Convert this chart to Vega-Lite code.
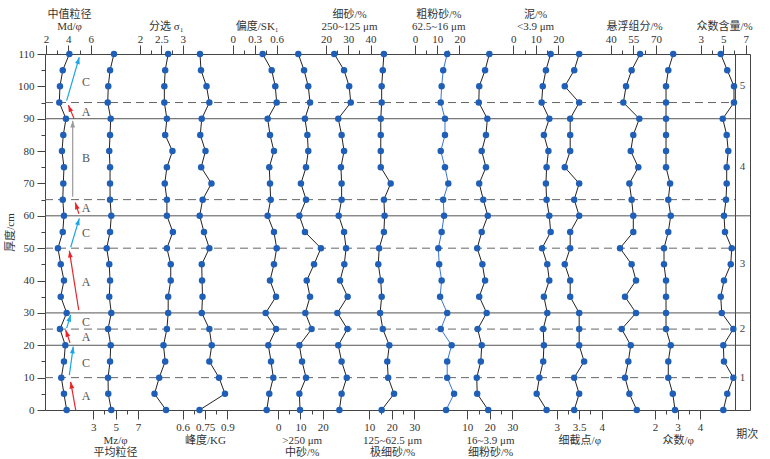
{
"$schema": "https://vega.github.io/schema/vega-lite/v6.json",
"width": 705, "height": 356,
"autosize": {"type": "none"},
"padding": {"left": 45, "top": 54, "right": 20, "bottom": 49},
"background": "white",
"config": {
 "view": {"stroke": "#444", "strokeWidth": 1},
 "axis": {"labelFont": "Liberation Serif", "labelFontSize": 11, "labelColor": "#333", "titleFont": "Liberation Serif, Noto Sans CJK SC", "titleFontSize": 11, "titleFontWeight": "normal", "titleColor": "#333", "tickColor": "#444", "tickWidth": 1, "domain": false, "grid": false, "labelOverlap": false, "labelFlush": false, "titleLineHeight": 12},
 "text": {"font": "Liberation Serif"}
},
"datasets": {
 "profile": [
  {"depth":0,"Md":3.85,"Mz":4.61,"so":2.61,"kg":0.713,"sk":0.464,"ms":9.8,"fs":26.0,"vfs":15.5,"cs":14.0,"fis":19.3,"mud":14.8,"cut":3.39,"susp":57.3,"mode":2.89,"modec":5.01},
  {"depth":5,"Md":3.61,"Mz":4.34,"so":2.34,"kg":0.884,"sk":0.499,"ms":9.5,"fs":27.0,"vfs":21.0,"cs":17.6,"fis":14.4,"mud":10.4,"cut":3.50,"susp":52.4,"mode":2.79,"modec":5.36},
  {"depth":10,"Md":3.37,"Mz":4.32,"so":2.45,"kg":0.844,"sk":0.554,"ms":12.5,"fs":29.3,"vfs":18.4,"cs":14.5,"fis":14.2,"mud":11.6,"cut":3.39,"susp":49.5,"mode":2.59,"modec":5.90},
  {"depth":15,"Md":3.61,"Mz":4.50,"so":2.59,"kg":0.779,"sk":0.523,"ms":10.7,"fs":27.0,"vfs":18.0,"cs":14.5,"fis":16.0,"mud":13.3,"cut":3.61,"susp":51.7,"mode":2.59,"modec":5.07},
  {"depth":20,"Md":3.73,"Mz":4.56,"so":2.55,"kg":0.795,"sk":0.486,"ms":9.5,"fs":25.5,"vfs":18.9,"cs":16.5,"fis":16.4,"mud":13.6,"cut":3.50,"susp":53.3,"mode":2.70,"modec":5.01},
  {"depth":25,"Md":3.25,"Mz":4.32,"so":2.63,"kg":0.779,"sk":0.591,"ms":15.0,"fs":29.6,"vfs":16.0,"cs":11.6,"fis":14.6,"mud":13.3,"cut":3.50,"susp":47.3,"mode":2.49,"modec":5.90},
  {"depth":30,"Md":3.85,"Mz":4.61,"so":2.66,"kg":0.728,"sk":0.450,"ms":12.2,"fs":25.1,"vfs":14.8,"cs":14.5,"fis":18.6,"mud":15.1,"cut":3.50,"susp":56.8,"mode":2.49,"modec":4.87},
  {"depth":35,"Md":3.32,"Mz":4.43,"so":2.66,"kg":0.733,"sk":0.591,"ms":14.3,"fs":29.7,"vfs":15.5,"cs":11.3,"fis":15.3,"mud":13.6,"cut":3.30,"susp":49.5,"mode":2.49,"modec":4.78},
  {"depth":40,"Md":3.61,"Mz":4.50,"so":2.72,"kg":0.730,"sk":0.509,"ms":12.8,"fs":26.3,"vfs":15.1,"cs":12.0,"fis":17.9,"mud":16.0,"cut":3.30,"susp":56.8,"mode":2.49,"modec":5.07},
  {"depth":45,"Md":3.32,"Mz":4.43,"so":2.72,"kg":0.728,"sk":0.563,"ms":16.1,"fs":28.2,"vfs":14.0,"cs":10.9,"fis":16.7,"mud":15.1,"cut":3.18,"susp":53.9,"mode":2.40,"modec":5.67},
  {"depth":50,"Md":3.07,"Mz":4.20,"so":2.63,"kg":0.779,"sk":0.600,"ms":19.2,"fs":29.0,"vfs":14.4,"cs":10.5,"fis":14.4,"mud":12.8,"cut":3.30,"susp":46.2,"mode":2.40,"modec":5.76},
  {"depth":55,"Md":3.50,"Mz":4.50,"so":2.77,"kg":0.743,"sk":0.563,"ms":12.0,"fs":28.1,"vfs":16.5,"cs":12.0,"fis":16.4,"mud":16.6,"cut":3.30,"susp":55.0,"mode":2.59,"modec":5.16},
  {"depth":60,"Md":3.61,"Mz":4.61,"so":2.63,"kg":0.714,"sk":0.477,"ms":9.5,"fs":25.7,"vfs":16.8,"cs":13.1,"fis":19.1,"mud":16.0,"cut":3.50,"susp":55.0,"mode":2.70,"modec":5.07},
  {"depth":65,"Md":3.50,"Mz":4.50,"so":2.63,"kg":0.734,"sk":0.518,"ms":12.5,"fs":27.0,"vfs":16.5,"cs":12.7,"fis":17.1,"mud":14.8,"cut":3.39,"susp":53.9,"mode":2.59,"modec":5.25},
  {"depth":70,"Md":3.55,"Mz":4.50,"so":2.58,"kg":0.793,"sk":0.509,"ms":10.2,"fs":27.0,"vfs":19.5,"cs":15.0,"fis":15.3,"mud":14.5,"cut":3.50,"susp":52.4,"mode":2.67,"modec":5.31},
  {"depth":75,"Md":3.61,"Mz":4.50,"so":2.63,"kg":0.724,"sk":0.499,"ms":12.5,"fs":26.7,"vfs":15.1,"cs":13.5,"fis":18.3,"mud":14.8,"cut":3.18,"susp":58.3,"mode":2.49,"modec":5.31},
  {"depth":80,"Md":3.43,"Mz":4.43,"so":2.76,"kg":0.753,"sk":0.563,"ms":13.5,"fs":28.1,"vfs":15.1,"cs":11.6,"fis":16.4,"mud":15.6,"cut":3.30,"susp":53.3,"mode":2.49,"modec":5.45},
  {"depth":85,"Md":3.55,"Mz":4.50,"so":2.59,"kg":0.718,"sk":0.509,"ms":13.1,"fs":27.0,"vfs":15.1,"cs":13.5,"fis":18.3,"mud":13.6,"cut":3.30,"susp":55.0,"mode":2.49,"modec":5.31},
  {"depth":90,"Md":3.79,"Mz":4.56,"so":2.63,"kg":0.728,"sk":0.477,"ms":12.0,"fs":25.5,"vfs":15.1,"cs":13.5,"fis":18.9,"mud":16.0,"cut":3.30,"susp":59.0,"mode":2.49,"modec":4.96},
  {"depth":95,"Md":3.19,"Mz":4.29,"so":2.57,"kg":0.779,"sk":0.600,"ms":14.3,"fs":31.1,"vfs":15.5,"cs":11.6,"fis":15.1,"mud":12.6,"cut":3.50,"susp":48.4,"mode":2.49,"modec":5.96},
  {"depth":100,"Md":3.25,"Mz":4.34,"so":2.57,"kg":0.760,"sk":0.581,"ms":13.5,"fs":30.4,"vfs":15.5,"cs":12.0,"fis":15.3,"mud":13.1,"cut":3.18,"susp":50.2,"mode":2.49,"modec":5.96},
  {"depth":105,"Md":3.50,"Mz":4.50,"so":2.59,"kg":0.723,"sk":0.532,"ms":11.6,"fs":28.1,"vfs":16.0,"cs":12.7,"fis":17.9,"mud":14.5,"cut":3.39,"susp":53.9,"mode":2.59,"modec":5.36},
  {"depth":110,"Md":4.09,"Mz":4.85,"so":2.66,"kg":0.716,"sk":0.409,"ms":9.0,"fs":23.7,"vfs":16.5,"cs":14.5,"fis":19.8,"mud":16.6,"cut":3.50,"susp":59.5,"mode":2.81,"modec":4.78}
 ],
 "arrows": [
  {"unit":"A","depth":0,"depth2":8.7,"x1":4.66,"x2":4.21},
  {"unit":"C","depth":10.8,"depth2":19.6,"x1":4.09,"x2":4.44},
  {"unit":"A","depth":20.8,"depth2":24.7,"x1":4.15,"x2":3.76},
  {"unit":"C","depth":25.3,"depth2":29.4,"x1":3.85,"x2":4.21},
  {"unit":"A","depth":30.9,"depth2":49.2,"x1":4.93,"x2":4.09},
  {"unit":"C","depth":50.3,"depth2":59.2,"x1":4.21,"x2":4.98},
  {"unit":"A","depth":60.6,"depth2":64.1,"x1":4.95,"x2":4.62},
  {"unit":"B","depth":65.9,"depth2":89.4,"x1":4.39,"x2":4.39},
  {"unit":"A","depth":90.1,"depth2":94.2,"x1":4.51,"x2":4.0},
  {"unit":"C","depth":95.6,"depth2":109,"x1":3.85,"x2":4.98}
 ],
 "units": [
  {"depth":4.3,"unit":"A"},{"depth":14.4,"unit":"C"},{"depth":22.5,"unit":"A"},{"depth":27.3,"unit":"C"},{"depth":39.7,"unit":"A"},
  {"depth":54.6,"unit":"C"},{"depth":62.3,"unit":"A"},{"depth":77.8,"unit":"B"},{"depth":92.2,"unit":"A"},{"depth":101.2,"unit":"C"}
 ],
 "periods": [
  {"period":"1","from":0,"to":20},{"period":"2","from":20,"to":30},{"period":"3","from":30,"to":60},{"period":"4","from":60,"to":90},{"period":"5","from":90,"to":110}
 ],
 "boundaries": [
  {"depth":20,"kind":"period"},{"depth":30,"kind":"period"},{"depth":60,"kind":"period"},{"depth":90,"kind":"period"},
  {"depth":10,"kind":"unit"},{"depth":25,"kind":"unit"},{"depth":50,"kind":"unit"},{"depth":65,"kind":"unit"},{"depth":95,"kind":"unit"}
 ]
},
"data": {"name": "profile"},
"encoding": {
 "y": {"field":"depth","type":"quantitative","title":"厚度/cm","scale":{"domain":[0,110],"nice":false,"zero":false},
  "axis":{"values":[0,5,10,15,20,25,30,35,40,45,50,55,60,65,70,75,80,85,90,95,100,105,110],"format":"d","labelExpr":"datum.value % 10 == 0 ? datum.label : ''","tickSize":{"condition":{"test":"datum.value % 10 != 0","value":4},"value":8},"labelPadding":3,"titleX":-35,"titleY":178,"titleAngle":-90,"titleAlign":"center","titleBaseline":"middle"}}
},
"layer": [
 {"layer": [
  {"data":{"name":"boundaries"},"transform":[{"filter":"datum.kind == 'period'"}],"mark":{"type":"rule","color":"#555","strokeWidth":1},"encoding":{}},
  {"data":{"name":"boundaries"},"transform":[{"filter":"datum.kind == 'unit'"}],"mark":{"type":"rule","color":"#666","strokeWidth":1,"strokeDash":[8,5]},
   "encoding":{"x":{"datum":-46,"type":"quantitative","scale":{"domain":[-46,1],"nice":false,"zero":false},"axis":{"orient":"bottom","values":[0],"labels":false,"ticks":false,"domain":false,"grid":true,"gridColor":"#444","gridWidth":1,"title":"期次","titleX":701.7,"titleY":18,"titleBaseline":"top","titleAlign":"center"}},"x2":{"datum":0}}},
  {"data":{"name":"periods"},"transform":[{"calculate":"(datum.from + datum.to) / 2","as":"depth"}],"mark":{"type":"text","fontSize":11,"color":"#444","baseline":"middle"},
   "encoding":{"x":{"datum":0.5,"type":"quantitative","scale":{"domain":[-46,1],"nice":false,"zero":false},"axis":{"orient":"bottom","values":[0],"labels":false,"ticks":false,"domain":false,"grid":true,"gridColor":"#444","gridWidth":1,"title":"期次","titleX":701.7,"titleY":18,"titleBaseline":"top","titleAlign":"center"}},"text":{"field":"period"}}}
 ]},
 {"encoding":{"x":{"field":"Md","type":"quantitative","scale":{"domain":[1.9105,65.03],"nice":false,"zero":false},"axis":{"orient":"top","values":[2,3,4,5,6],"format":".3~g","labelExpr":"(datum.value == 2 || datum.value == 4 || datum.value == 6) ? datum.label : ''","tickSize":{"condition":{"test":"!(datum.value == 2 || datum.value == 4 || datum.value == 6)","value":4},"value":9},"labelPadding":1,"title":["中值粒径","Md/φ"],"titleX":24,"titleY":-34.7,"titleBaseline":"bottom","titleAlign":"center"}}},
  "layer": [
  {"mark":{"type":"line","color":"#222","strokeWidth":1},"encoding":{"order":{"field":"depth","type":"quantitative"}}},
  {"mark":{"type":"circle","color":"#1f5fb8","size":42,"opacity":1}},
  {"data":{"name":"arrows"},"mark":{"type":"rule","strokeWidth":1.2},"encoding":{"x":{"field":"x1","type":"quantitative"},"x2":{"field":"x2"},"y2":{"field":"depth2"},"color":{"field":"unit","type":"nominal","scale":{"domain":["A","B","C"],"range":["#e8242a","#9a9a9a","#1ca6e6"]},"legend":null}}},
  {"data":{"name":"arrows"},"transform":[{"calculate":"atan2((datum.x2 - datum.x1) * 11.17, (datum.depth2 - datum.depth) * 3.236) * 180 / PI","as":"ang"}],"mark":{"type":"point","shape":"M0,0L-0.6,1.7L0.6,1.7Z","filled":true,"opacity":1,"size":64},
   "encoding":{"x":{"field":"x2","type":"quantitative"},"y":{"field":"depth2","type":"quantitative","title":"厚度/cm"},"angle":{"field":"ang","type":"quantitative","scale":null},"color":{"field":"unit","type":"nominal","legend":null}}},
  {"data":{"name":"units"},"transform":[{"calculate":"5.58","as":"lx"}],"mark":{"type":"text","fontSize":12,"color":"#555","baseline":"middle"},"encoding":{"x":{"field":"lx","type":"quantitative"},"text":{"field":"unit"}}}
 ]},
 {"encoding":{"x":{"field":"Mz","type":"quantitative","scale":{"domain":[-1.324,61.79],"nice":false,"zero":false},"axis":{"orient":"bottom","values":[3,4,5,6,7],"format":".3~g","labelExpr":"(datum.value == 3 || datum.value == 5 || datum.value == 7) ? datum.label : ''","tickSize":{"condition":{"test":"!(datum.value == 3 || datum.value == 5 || datum.value == 7)","value":4},"value":9},"labelPadding":2,"title":["Mz/φ","平均粒径"],"titleX":70,"titleY":24.2,"titleBaseline":"top","titleAlign":"center"}}},
  "layer":[{"mark":{"type":"line","color":"#222","strokeWidth":1},"encoding":{"order":{"field":"depth","type":"quantitative"}}},{"mark":{"type":"circle","color":"#1f5fb8","size":42,"opacity":1}}]},
 {"encoding":{"x":{"field":"so","type":"quantitative","scale":{"domain":[-0.2248,16.286],"nice":false,"zero":false},"axis":{"orient":"top","values":[2,2.25,2.5,2.75,3],"format":".3~g","labelExpr":"(datum.value == 2 || datum.value == 2.5 || datum.value == 3) ? datum.label : ''","tickSize":{"condition":{"test":"!(datum.value == 2 || datum.value == 2.5 || datum.value == 3)","value":4},"value":9},"labelPadding":1,"title":"分选 σ₁","titleX":120.7,"titleY":-22.7,"titleBaseline":"bottom","titleAlign":"center"}}},
  "layer":[{"mark":{"type":"line","color":"#222","strokeWidth":1},"encoding":{"order":{"field":"depth","type":"quantitative"}}},{"mark":{"type":"circle","color":"#1f5fb8","size":42,"opacity":1}}]},
 {"encoding":{"x":{"field":"kg","type":"quantitative","scale":{"domain":[-0.3248,4.41],"nice":false,"zero":false},"axis":{"orient":"bottom","values":[0.6,0.675,0.75,0.825,0.9],"format":".3~g","labelExpr":"(datum.value == 0.6 || datum.value == 0.75 || datum.value == 0.9) ? datum.label : ''","tickSize":{"condition":{"test":"!(datum.value == 0.6 || datum.value == 0.75 || datum.value == 0.9)","value":4},"value":9},"labelPadding":2,"title":"峰度/KG","titleX":160,"titleY":24.2,"titleBaseline":"top","titleAlign":"center"}}},
  "layer":[{"mark":{"type":"line","color":"#222","strokeWidth":1},"encoding":{"order":{"field":"depth","type":"quantitative"}}},{"mark":{"type":"circle","color":"#1f5fb8","size":42,"opacity":1}}]},
 {"encoding":{"x":{"field":"sk","type":"quantitative","scale":{"domain":[-2.5607,7.0573],"nice":false,"zero":false},"axis":{"orient":"top","values":[0,0.15,0.3,0.45,0.6],"format":".3~g","labelExpr":"(datum.value == 0 || datum.value == 0.3 || datum.value == 0.6) ? datum.label : ''","tickSize":{"condition":{"test":"!(datum.value == 0 || datum.value == 0.3 || datum.value == 0.6)","value":4},"value":9},"labelPadding":1,"title":"偏度/SK₁","titleX":211.7,"titleY":-22.7,"titleBaseline":"bottom","titleAlign":"center"}}},
  "layer":[{"mark":{"type":"line","color":"#222","strokeWidth":1},"encoding":{"order":{"field":"depth","type":"quantitative"}}},{"mark":{"type":"circle","color":"#1f5fb8","size":42,"opacity":1}}]},
 {"encoding":{"x":{"field":"ms","type":"quantitative","scale":{"domain":[-105.09,212.48],"nice":false,"zero":false},"axis":{"orient":"bottom","values":[0,5,10,15,20],"format":".3~g","labelExpr":"(datum.value == 0 || datum.value == 10 || datum.value == 20) ? datum.label : ''","tickSize":{"condition":{"test":"!(datum.value == 0 || datum.value == 10 || datum.value == 20)","value":4},"value":9},"labelPadding":2,"title":[">250 μm","中砂/%"],"titleX":256.7,"titleY":24.2,"titleBaseline":"top","titleAlign":"center"}}},
  "layer":[{"mark":{"type":"line","color":"#222","strokeWidth":1},"encoding":{"order":{"field":"depth","type":"quantitative"}}},{"mark":{"type":"circle","color":"#1f5fb8","size":42,"opacity":1}}]},
 {"encoding":{"x":{"field":"fs","type":"quantitative","scale":{"domain":[-106.01,210.13],"nice":false,"zero":false},"axis":{"orient":"top","values":[20,25,30,35,40],"format":".3~g","labelExpr":"(datum.value == 20 || datum.value == 30 || datum.value == 40) ? datum.label : ''","tickSize":{"condition":{"test":"!(datum.value == 20 || datum.value == 30 || datum.value == 40)","value":4},"value":9},"labelPadding":1,"title":["细砂/%","250~125 μm"],"titleX":304,"titleY":-34.7,"titleBaseline":"bottom","titleAlign":"center"}}},
  "layer":[{"mark":{"type":"line","color":"#222","strokeWidth":1},"encoding":{"order":{"field":"depth","type":"quantitative"}}},{"mark":{"type":"circle","color":"#1f5fb8","size":42,"opacity":1}}]},
 {"encoding":{"x":{"field":"vfs","type":"quantitative","scale":{"domain":[-134.13,179.2],"nice":false,"zero":false},"axis":{"orient":"bottom","values":[10,15,20,25,30],"format":".3~g","labelExpr":"(datum.value == 10 || datum.value == 20 || datum.value == 30) ? datum.label : ''","tickSize":{"condition":{"test":"!(datum.value == 10 || datum.value == 20 || datum.value == 30)","value":4},"value":9},"labelPadding":2,"title":["125~62.5 μm","极细砂/%"],"titleX":347,"titleY":24.2,"titleBaseline":"top","titleAlign":"center"}}},
  "layer":[{"mark":{"type":"line","color":"#222","strokeWidth":1},"encoding":{"order":{"field":"depth","type":"quantitative"}}},{"mark":{"type":"circle","color":"#1f5fb8","size":42,"opacity":1}}]},
 {"encoding":{"x":{"field":"cs","type":"quantitative","scale":{"domain":[-166.67,150.9],"nice":false,"zero":false},"axis":{"orient":"top","values":[0,5,10,15,20],"format":".3~g","labelExpr":"(datum.value == 0 || datum.value == 10 || datum.value == 20) ? datum.label : ''","tickSize":{"condition":{"test":"!(datum.value == 0 || datum.value == 10 || datum.value == 20)","value":4},"value":9},"labelPadding":1,"title":["粗粉砂/%","62.5~16 μm"],"titleX":393.3,"titleY":-34.7,"titleBaseline":"bottom","titleAlign":"center"}}},
  "layer":[{"mark":{"type":"line","color":"#3b73d4","strokeWidth":1},"encoding":{"order":{"field":"depth","type":"quantitative"}}},{"mark":{"type":"circle","color":"#1f5fb8","size":42,"opacity":1}}]},
 {"encoding":{"x":{"field":"fis","type":"quantitative","scale":{"domain":[-177.69,135.64],"nice":false,"zero":false},"axis":{"orient":"bottom","values":[10,15,20,25,30],"format":".3~g","labelExpr":"(datum.value == 10 || datum.value == 20 || datum.value == 30) ? datum.label : ''","tickSize":{"condition":{"test":"!(datum.value == 10 || datum.value == 20 || datum.value == 30)","value":4},"value":9},"labelPadding":2,"title":["16~3.9 μm","细粉砂/%"],"titleX":445,"titleY":24.2,"titleBaseline":"top","titleAlign":"center"}}},
  "layer":[{"mark":{"type":"line","color":"#222","strokeWidth":1},"encoding":{"order":{"field":"depth","type":"quantitative"}}},{"mark":{"type":"circle","color":"#1f5fb8","size":42,"opacity":1}}]},
 {"encoding":{"x":{"field":"mud","type":"quantitative","scale":{"domain":[-208.13,105.2],"nice":false,"zero":false},"axis":{"orient":"top","values":[0,5,10,15,20],"format":".3~g","labelExpr":"(datum.value == 0 || datum.value == 10 || datum.value == 20) ? datum.label : ''","tickSize":{"condition":{"test":"!(datum.value == 0 || datum.value == 10 || datum.value == 20)","value":4},"value":9},"labelPadding":1,"title":["泥/%","<3.9 μm"],"titleX":490,"titleY":-34.7,"titleBaseline":"bottom","titleAlign":"center"}}},
  "layer":[{"mark":{"type":"line","color":"#222","strokeWidth":1},"encoding":{"order":{"field":"depth","type":"quantitative"}}},{"mark":{"type":"circle","color":"#1f5fb8","size":42,"opacity":1}}]},
 {"encoding":{"x":{"field":"cut","type":"quantitative","scale":{"domain":[-8.371,7.296],"nice":false,"zero":false},"axis":{"orient":"bottom","values":[3,3.25,3.5,3.75,4],"format":".3~g","labelExpr":"(datum.value == 3 || datum.value == 3.5 || datum.value == 4) ? datum.label : ''","tickSize":{"condition":{"test":"!(datum.value == 3 || datum.value == 3.5 || datum.value == 4)","value":4},"value":9},"labelPadding":2,"title":"细截点/φ","titleX":534.3,"titleY":24.2,"titleBaseline":"top","titleAlign":"center"}}},
  "layer":[{"mark":{"type":"line","color":"#222","strokeWidth":1},"encoding":{"order":{"field":"depth","type":"quantitative"}}},{"mark":{"type":"circle","color":"#1f5fb8","size":42,"opacity":1}}]},
 {"encoding":{"x":{"field":"susp","type":"quantitative","scale":{"domain":[-335.45,132.45],"nice":false,"zero":false},"axis":{"orient":"top","values":[40,47.5,55,62.5,70],"format":".3~g","labelExpr":"(datum.value == 40 || datum.value == 55 || datum.value == 70) ? datum.label : ''","tickSize":{"condition":{"test":"!(datum.value == 40 || datum.value == 55 || datum.value == 70)","value":4},"value":9},"labelPadding":1,"title":"悬浮组分/%","titleX":589,"titleY":-22.7,"titleBaseline":"bottom","titleAlign":"center"}}},
  "layer":[{"mark":{"type":"line","color":"#222","strokeWidth":1},"encoding":{"order":{"field":"depth","type":"quantitative"}}},{"mark":{"type":"circle","color":"#1f5fb8","size":42,"opacity":1}}]},
 {"encoding":{"x":{"field":"mode","type":"quantitative","scale":{"domain":[-25.11,6.222],"nice":false,"zero":false},"axis":{"orient":"bottom","values":[2,2.5,3,3.5,4],"format":".3~g","labelExpr":"(datum.value == 2 || datum.value == 3 || datum.value == 4) ? datum.label : ''","tickSize":{"condition":{"test":"!(datum.value == 2 || datum.value == 3 || datum.value == 4)","value":4},"value":9},"labelPadding":2,"title":"众数/φ","titleX":632.7,"titleY":24.2,"titleBaseline":"top","titleAlign":"center"}}},
  "layer":[{"mark":{"type":"line","color":"#222","strokeWidth":1},"encoding":{"order":{"field":"depth","type":"quantitative"}}},{"mark":{"type":"circle","color":"#1f5fb8","size":42,"opacity":1}}]},
 {"encoding":{"x":{"field":"modec","type":"quantitative","scale":{"domain":[-55.28,7.382],"nice":false,"zero":false},"axis":{"orient":"top","values":[3,4,5,6,7],"format":".3~g","labelExpr":"(datum.value == 3 || datum.value == 5 || datum.value == 7) ? datum.label : ''","tickSize":{"condition":{"test":"!(datum.value == 3 || datum.value == 5 || datum.value == 7)","value":4},"value":9},"labelPadding":1,"title":"众数含量/%","titleX":679,"titleY":-22.7,"titleBaseline":"bottom","titleAlign":"center"}}},
  "layer":[{"mark":{"type":"line","color":"#222","strokeWidth":1},"encoding":{"order":{"field":"depth","type":"quantitative"}}},{"mark":{"type":"circle","color":"#1f5fb8","size":42,"opacity":1}}]}
],
"resolve": {"scale": {"x": "independent"}, "axis": {"x": "independent"}}
}
